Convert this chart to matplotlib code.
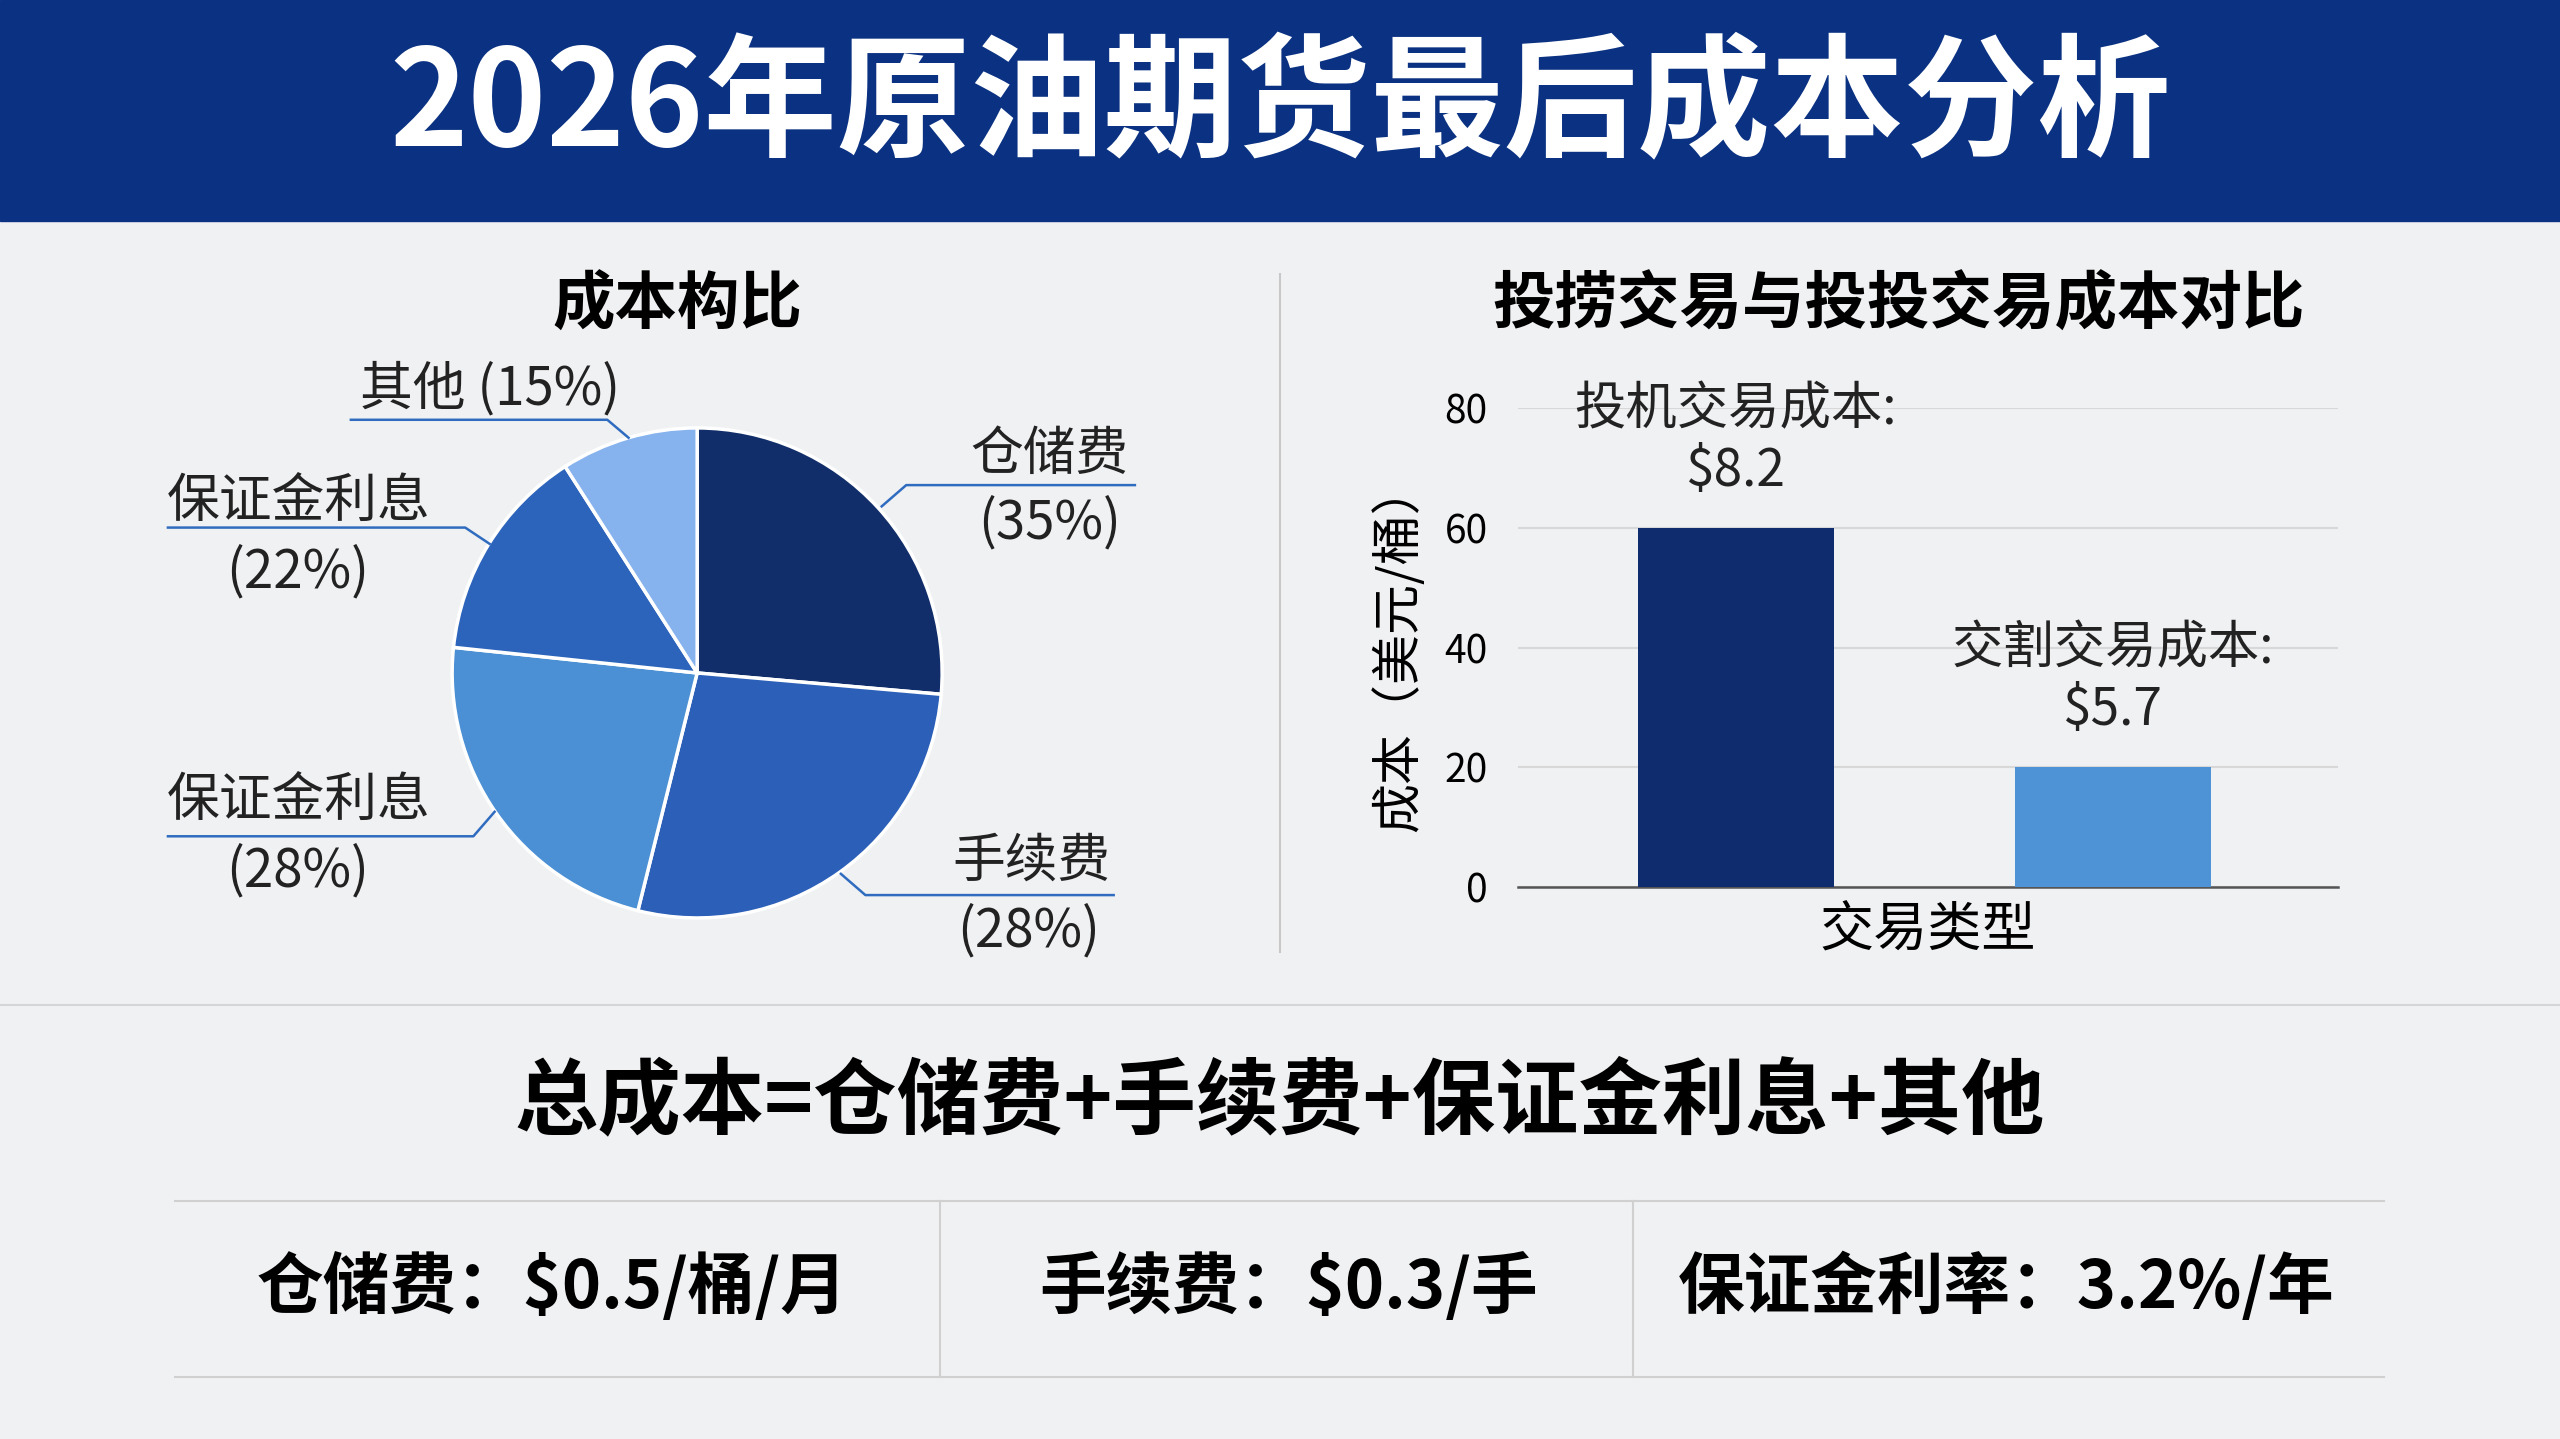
import matplotlib.pyplot as plt
import numpy as np

plt.rcParams['font.family'] = ['Noto Sans CJK SC', 'DejaVu Sans']

# data
pie_names = ["仓储费", "手续费", "保证金利息", "保证金利息", "其他"]
pie_pct_labels = ["(35%)", "(28%)", "(28%)", "(22%)", "(15%)"]
pie_sizes = [95, 99, 82, 51.4, 32.6]   # visual slice sizes (degrees)
pie_colors = ["#112e6b", "#2b5fb8", "#4b90d4", "#2c64bb", "#86b2ee"]

bar_cats = ["投机交易", "交割交易"]
bar_vals = [60, 20]
bar_notes = ["投机交易成本:\n$8.2", "交割交易成本:\n$5.7"]
bar_colors = ["#0f2d6e", "#4d93d6"]

table_items = ["仓储费：$0.5/桶/月", "手续费：$0.3/手", "保证金利率：3.2%/年"]

W, H = 1568, 881
def fx(x): return x / W
def fy(y): return 1 - y / H

fig = plt.figure(figsize=(25.6, 14.39), dpi=100, facecolor="#f0f1f3")

# title band
fig.patches.append(plt.Rectangle((0, fy(135)), 1, 135 / H, transform=fig.transFigure,
                                 color="#0b3282", zorder=0))
fig.text(0.5, fy(66), "2026年原油期货最后成本分析", color="white", fontsize=96,
         fontweight="bold", ha="center", va="center")

# pie
cx, cy, r = 427, 412, 150
h = r / H
w = h * 14.39 / 25.6
axp = fig.add_axes([fx(cx) - w, fy(cy) - h, 2 * w, 2 * h])
axp.pie(pie_sizes, colors=pie_colors, startangle=90, counterclock=False, radius=1,
        wedgeprops=dict(edgecolor="white", linewidth=2.5))
axp.set_xlim(-1, 1); axp.set_ylim(-1, 1); axp.set_aspect("equal"); axp.axis("off")

def P(X, Y): return ((X - cx) / r, -(Y - cy) / r)

lc = "#2f6cc0"
leaders = [
    [(540, 310), (555, 297), (695, 297)],
    [(515, 535), (530, 548), (682, 548)],
    [(303, 497), (290, 512), (103, 512)],
    [(300, 333), (285, 323), (103, 323)],
    [(385, 268), (372, 257), (215, 257)],
]
for pts in leaders:
    xs, ys = zip(*[P(*p) for p in pts])
    axp.plot(xs, ys, color=lc, lw=1.8, clip_on=False)

lab_pos = [((643, 278), (643, 320)), ((632, 527), (630, 570)),
           ((183, 490), (182, 533)), ((183, 307), (182, 350))]
for i, (a, b) in enumerate(lab_pos):
    fig.text(fx(a[0]), fy(a[1]), pie_names[i], fontsize=38, ha="center", va="center", color="#222222")
    fig.text(fx(b[0]), fy(b[1]), pie_pct_labels[i], fontsize=38, ha="center", va="center", color="#222222")
fig.text(fx(300), fy(238), pie_names[4] + " " + pie_pct_labels[4], fontsize=38, ha="center",
         va="center", color="#222222")

fig.text(fx(415), fy(187), "成本构比", fontsize=45, fontweight="bold", ha="center", va="center")
fig.text(fx(1163), fy(187), "投捞交易与投投交易成本对比", fontsize=45, fontweight="bold",
         ha="center", va="center")

# dividers
fig.add_artist(plt.Line2D([fx(784), fx(784)], [fy(583), fy(168)], color="#c8c8c8", lw=1.5))
fig.add_artist(plt.Line2D([0, 1], [fy(615), fy(615)], color="#d6d6d6", lw=1.5))

# bar chart
axb = fig.add_axes([fx(930), fy(543), fx(1432 - 930), (543 - 250) / H])
axb.set_facecolor("none")
xpos = np.arange(len(bar_cats))
axb.bar(xpos, bar_vals, width=0.52, color=bar_colors, zorder=3)
axb.set_xlim(-0.576, 1.597)
axb.set_ylim(0, 80)
axb.set_yticks([0, 20, 40, 60, 80])
axb.set_xticks([])
axb.grid(axis="y", color="#d8d8d8", lw=1.5, zorder=0)
for s in ["top", "right", "left"]:
    axb.spines[s].set_visible(False)
axb.spines["bottom"].set_color("#555555")
axb.spines["bottom"].set_linewidth(1.8)
axb.tick_params(axis="y", length=0, labelsize=28, pad=22)
axb.set_xlabel("交易类型", fontsize=39, labelpad=12)
axb.set_ylabel("成本（美元/桶）", fontsize=36, labelpad=14)
for x, v, t in zip(xpos, bar_vals, bar_notes):
    axb.text(x, v + 5, t, fontsize=37, ha="center", va="bottom", color="#222222", linespacing=1.2)

# formula
fig.text(0.5, fy(675), "总成本=仓储费+手续费+保证金利息+其他", fontsize=60, fontweight="bold",
         ha="center", va="center")

# bottom table
for yy in (735, 843):
    fig.add_artist(plt.Line2D([fx(107), fx(1460)], [fy(yy), fy(yy)], color="#d0d0d0", lw=1.5))
for xx in (576, 1000):
    fig.add_artist(plt.Line2D([fx(xx), fx(xx)], [fy(843), fy(735)], color="#d0d0d0", lw=1.5))
for xx, t in zip((338, 789, 1229), table_items):
    fig.text(fx(xx), fy(788), t, fontsize=48, fontweight="bold", ha="center", va="center")

fig.savefig("out.png", facecolor=fig.get_facecolor())
